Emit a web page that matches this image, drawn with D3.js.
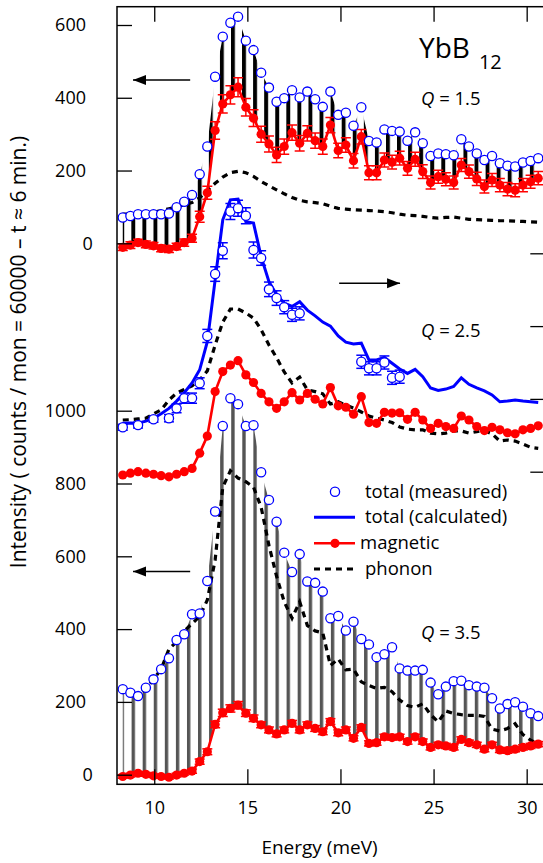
<!DOCTYPE html>
<html><head><meta charset="utf-8">
<script src="https://cdn.jsdelivr.net/npm/d3@7"></script>
<style>body{margin:0;background:#fff}svg{display:block;font-family:"Open Sans",sans-serif}</style>
</head><body>
<svg id="c" width="543" height="863"></svg>
<script>
// ---------- data ----------
const energy = [8.31,8.72,9.13,9.55,9.96,10.37,10.79,11.20,11.61,12.03,12.44,12.85,13.27,13.68,14.09,14.50,14.92,15.33,15.74,16.16,16.57,16.98,17.40,17.81,18.22,18.64,19.05,19.46,19.88,20.29,20.70,21.12,21.53,21.94,22.36,22.77,23.18,23.60,24.01,24.42,24.84,25.25,25.66,26.08,26.49,26.90,27.32,27.73,28.14,28.56,28.97,29.38,29.80,30.21,30.62];

// Q = 1.5 (left axis, upper)
const q15Total = [71,75,80,80,80,80,82,99,114,133,190,266,458,568,606,623,557,531,469,428,389,399,421,401,417,396,375,417,353,359,323,374,281,277,313,309,307,282,305,275,240,247,245,242,286,266,247,229,240,220,213,211,222,226,234];
const q15Mag = [-11,-5,2,-3,-7,-14,-16,-9,2,14,73,139,310,383,408,429,374,344,300,273,243,266,304,275,302,282,266,325,255,270,227,293,194,194,229,223,234,206,231,197,167,183,176,167,215,197,177,156,174,160,149,146,160,169,179];
const q15MagErr = [9,9,9,9,9,9,9,9,10,11,15,18,24,25,25,26,24,23,22,22,21,21,21,21,21,21,21,21,20,20,20,20,19,19,19,19,19,19,19,19,18,18,18,18,18,18,18,18,18,18,18,18,18,18,18];
const q15Phonon = [80,80,80,82,85,90,95,100,106,112,125,145,165,182,194,198,194,184,170,158,147,136,126,118,114,112,109,102,96,94,92,91,90,89,87,84,80,77,76,74,71,69,71,72,69,66,65,64,63,62,62,61,60,59,58];

// Q = 2.5 (right axis, middle)
const q25MeasE = [8.31,9.13,9.96,10.79,11.20,11.61,12.03,12.44,12.85,13.27,13.68,14.09,14.50,14.92,15.33,15.74,16.16,16.57,16.98,17.40,17.81,21.12,21.53,21.94,22.36,22.77,23.18];
const q25Meas = [122,128,144,147,174,202,202,243,373,543,607,715,724,703,609,587,501,477,452,431,435,302,284,284,300,258,261];
const q25MeasErr = [8,8,8,10,12,14,14,15,18,20,22,22,22,22,22,20,20,20,18,18,18,18,18,18,18,18,18];
const q25Calc = [133,134,133,139,147,159,174,194,217,244,280,357,527,692,747,749,687,683,591,522,486,463,454,467,444,428,411,400,373,356,351,353,307,307,314,298,282,270,281,261,230,223,227,234,258,240,230,222,211,192,194,197,194,192,190];
const q25Mag = [-9,-4,0,-4,-7,-11,-14,-7,0,9,51,98,220,275,293,305,266,245,215,192,174,192,217,197,215,199,186,231,181,177,158,206,135,133,163,161,162,144,163,142,119,133,124,119,153,142,124,113,122,115,107,104,115,119,126];
const q25Phonon = [142,143,145,147,159,170,197,216,226,236,252,277,348,411,447,447,436,422,390,348,313,274,244,260,225,220,214,186,192,183,175,164,153,147,142,135,123,117,115,115,106,104,106,112,112,106,110,113,104,84,87,84,76,67,64];

// Q = 3.5 (left axis, lower)
const q35Total = [235,225,216,239,262,290,320,370,386,441,443,532,723,958,1034,1018,958,960,831,755,695,610,557,606,531,527,503,430,436,396,420,373,358,323,331,350,292,286,286,288,253,221,242,257,258,246,242,239,210,182,194,199,187,169,161];
const q35Mag = [-5,-1,4,1,-3,-5,-7,-1,4,10,36,63,138,170,182,191,169,155,137,123,112,123,141,123,137,127,118,146,115,123,100,130,86,88,104,102,104,91,104,91,75,82,79,75,97,88,82,70,82,68,66,70,75,79,84];
const q35MagErr = [5,5,5,5,5,5,5,5,5,6,7,8,9,10,10,10,9,9,8,8,8,8,8,8,8,8,8,8,8,8,7,7,7,7,7,7,7,7,7,7,7,7,7,7,7,7,7,7,7,7,7,7,7,7,7];
const q35Phonon = [238,228,220,236,262,290,345,365,395,415,435,480,590,790,835,815,805,790,735,630,545,475,430,475,410,395,390,300,318,288,290,255,245,237,240,228,205,190,185,195,165,145,175,168,165,163,163,160,125,120,127,140,110,95,85];

const xTicks = [10,15,20,25,30];
const yTopTicks = [0,200,400,600];
const yBotTicks = [0,200,400,600,800,1000];
const yMidTicks = [0,200,400,600];
const qLabels = ["1.5","2.5","3.5"];
const legendLabels = ["total (measured)","total (calculated)","magnetic","phonon"];

// ---------- layout ----------
const svg = d3.select('#c');
const L = 117, R = 545.3, T = 6.7, B = 784.3;
const x = d3.scaleLinear().domain([8,31]).range([L,R]);
const yTop = d3.scaleLinear().domain([0,600]).range([243.3,25]);
const yMid = d3.scaleLinear().domain([0,600]).range([471.7,253.3]);
const yBot = d3.scaleLinear().domain([0,1000]).range([774.7,410.7]);
const RED = '#ff0000', BLUE = '#0000ff';
const FS = 18;

const defs = svg.append('defs');
defs.append('clipPath').attr('id','clip')
  .append('rect').attr('x',L).attr('y',T).attr('width',R-L).attr('height',B-T);

// vertical hatch used to fill the phonon part between total and magnetic
const hatchStart = 8.875, hatchStepE = 0.5945;
function hatch(id, color, w){
  const step = x(hatchStart + hatchStepE) - x(hatchStart);
  defs.append('pattern').attr('id',id).attr('patternUnits','userSpaceOnUse')
    .attr('x', x(hatchStart) - w/2).attr('y',0).attr('width',step).attr('height',10)
    .append('rect').attr('x',0).attr('y',0).attr('width',w).attr('height',10).attr('fill',color);
}
hatch('hTop','#000',3.9);
hatch('hBot','#555',3.4);

const g = svg.append('g').attr('clip-path','url(#clip)');

function dashed(vals, ys){
  g.append('path').datum(vals)
    .attr('d', d3.line().x((d,i)=>x(energy[i])).y(d=>ys(d)))
    .attr('fill','none').attr('stroke','#000').attr('stroke-width',3.2)
    .attr('stroke-dasharray','6,5');
}
function hatchArea(tot, mag, ys, id){
  g.append('path').datum(tot)
    .attr('d', d3.area().x((d,i)=>x(energy[i])).y0((d,i)=>ys(mag[i])).y1(d=>ys(d)))
    .attr('fill',`url(#${id})`);
}
function errBars(es, vals, errs, ys, color){
  const eg = g.append('g').attr('stroke',color).attr('stroke-width',1.5);
  vals.forEach((v,i)=>{
    const xx = x(es[i]), y1 = ys(v+errs[i]), y2 = ys(v-errs[i]);
    eg.append('line').attr('x1',xx).attr('x2',xx).attr('y1',y1).attr('y2',y2);
    eg.append('line').attr('x1',xx-5).attr('x2',xx+5).attr('y1',y1).attr('y2',y1);
    eg.append('line').attr('x1',xx-5).attr('x2',xx+5).attr('y1',y2).attr('y2',y2);
  });
}
function redLine(vals, ys, errs){
  g.append('path').datum(vals)
    .attr('d', d3.line().x((d,i)=>x(energy[i])).y(d=>ys(d)))
    .attr('fill','none').attr('stroke',RED).attr('stroke-width',2.6);
  if(errs) errBars(energy, vals, errs, ys, RED);
  g.append('g').selectAll('circle').data(vals).join('circle')
    .attr('cx',(d,i)=>x(energy[i])).attr('cy',d=>ys(d)).attr('r',4.6).attr('fill',RED);
}
function openCircles(es, vals, ys){
  g.append('g').selectAll('circle').data(vals).join('circle')
    .attr('cx',(d,i)=>x(es[i])).attr('cy',d=>ys(d)).attr('r',4.6)
    .attr('fill','#fff').attr('stroke',BLUE).attr('stroke-width',1.3);
}

// Q=3.5 (bottom)
hatchArea(q35Total, q35Mag, yBot, 'hBot');
dashed(q35Phonon, yBot);
redLine(q35Mag, yBot, q35MagErr);
openCircles(energy, q35Total, yBot);

// Q=2.5 (middle)
dashed(q25Phonon, yMid);
redLine(q25Mag, yMid, null);
g.append('path').datum(q25Calc)
  .attr('d', d3.line().x((d,i)=>x(energy[i])).y(d=>yMid(d)))
  .attr('fill','none').attr('stroke',BLUE).attr('stroke-width',3);
errBars(q25MeasE, q25Meas, q25MeasErr, yMid, BLUE);
openCircles(q25MeasE, q25Meas, yMid);

// Q=1.5 (top)
dashed(q15Phonon, yTop);
hatchArea(q15Total, q15Mag, yTop, 'hTop');
redLine(q15Mag, yTop, q15MagErr);
openCircles(energy, q15Total, yTop);

// ---------- axes ----------
const ax = svg.append('g');
function styleAxis(sel){ sel.select('.domain').remove(); sel.selectAll('.tick line').attr('stroke','#000').attr('stroke-width',1.3); sel.selectAll('text').attr('font-size',FS).attr('fill','#000').attr('font-family','"Open Sans",sans-serif'); }
ax.append('g').attr('transform',`translate(0,${B})`)
  .call(d3.axisBottom(x).tickValues(xTicks).tickSize(-15).tickPadding(17).tickFormat(d3.format('d'))).call(styleAxis);
ax.append('g').attr('transform',`translate(0,${T})`)
  .call(d3.axisTop(x).tickValues(xTicks).tickSize(-15).tickFormat('')).call(styleAxis);
ax.append('g').attr('transform',`translate(${L},0)`)
  .call(d3.axisLeft(yTop).tickValues(yTopTicks).tickSize(-15).tickPadding(31).tickFormat(d3.format('d'))).call(styleAxis);
ax.append('g').attr('transform',`translate(${L},0)`)
  .call(d3.axisLeft(yBot).tickValues(yBotTicks).tickSize(-15).tickPadding(31).tickFormat(d3.format('d'))).call(styleAxis);
ax.selectAll('.tick text').filter(d=>d===0).attr('dx',6.7);
ax.append('g').attr('transform',`translate(${R},0)`)
  .call(d3.axisRight(yMid).tickValues(yMidTicks).tickSize(-15).tickFormat('')).call(styleAxis);
ax.append('rect').attr('x',L).attr('y',T).attr('width',R-L).attr('height',B-T)
  .attr('fill','none').attr('stroke','#000').attr('stroke-width',1.5);

// titles
svg.append('text').attr('x',319.5).attr('y',854).attr('text-anchor','middle').attr('font-size',19).text('Energy (meV)');
svg.append('text').attr('transform','translate(26,352) rotate(-90)').attr('text-anchor','middle').attr('font-size',21)
  .text('Intensity ( counts / mon = 60000 \u2013 t \u2248 6 min.)');

// compound label
const yb = svg.append('text').attr('x',419).attr('y',58).attr('font-size',28);
yb.append('tspan').text('YbB');
yb.append('tspan').attr('dx',9).attr('dy',11).attr('font-size',20).text('12');

// Q labels
const qBase = [105,337,639];
qLabels.forEach((q,i)=>{
  const t = svg.append('text').attr('x',421).attr('y',qBase[i]).attr('font-size',18.5);
  t.append('tspan').attr('font-style','italic').text('Q');
  t.append('tspan').text(' = '+q);
});

// arrows
function arrow(x1,x2,yy,headLeft){
  svg.append('line').attr('x1',x1).attr('x2',x2).attr('y1',yy).attr('y2',yy).attr('stroke','#000').attr('stroke-width',1.5);
  const hx = headLeft ? x1 : x2, s = headLeft ? 1 : -1;
  svg.append('path').attr('d',`M${hx},${yy}L${hx+s*13},${yy-5}L${hx+s*13},${yy+5}Z`).attr('fill','#000');
}
arrow(x(8.86), x(11.93), yTop(449), true);
arrow(x(8.86), x(11.93), yBot(558), true);
arrow(x(19.93), x(23.2), yMid(518), false);

// legend
const lg = svg.append('g').attr('font-size',18.5);
const lx1 = 314, lx2 = 355, rows = [491.7,517.3,543.3,569];
lg.append('circle').attr('cx',335).attr('cy',rows[0]).attr('r',4.6).attr('fill','#fff').attr('stroke',BLUE).attr('stroke-width',1.3);
lg.append('line').attr('x1',lx1).attr('x2',lx2).attr('y1',rows[1]).attr('y2',rows[1]).attr('stroke',BLUE).attr('stroke-width',3);
lg.append('line').attr('x1',lx1).attr('x2',lx2).attr('y1',rows[2]).attr('y2',rows[2]).attr('stroke',RED).attr('stroke-width',2.6);
lg.append('circle').attr('cx',335).attr('cy',rows[2]).attr('r',4.6).attr('fill',RED);
lg.append('line').attr('x1',lx1).attr('x2',lx2).attr('y1',rows[3]).attr('y2',rows[3]).attr('stroke','#000').attr('stroke-width',3.2).attr('stroke-dasharray','6,5');
const tx = [365,365,360,365];
legendLabels.forEach((s,i)=>{
  lg.append('text').attr('x',tx[i]).attr('y',rows[i]+6).text(s);
});
</script>
</body></html>
